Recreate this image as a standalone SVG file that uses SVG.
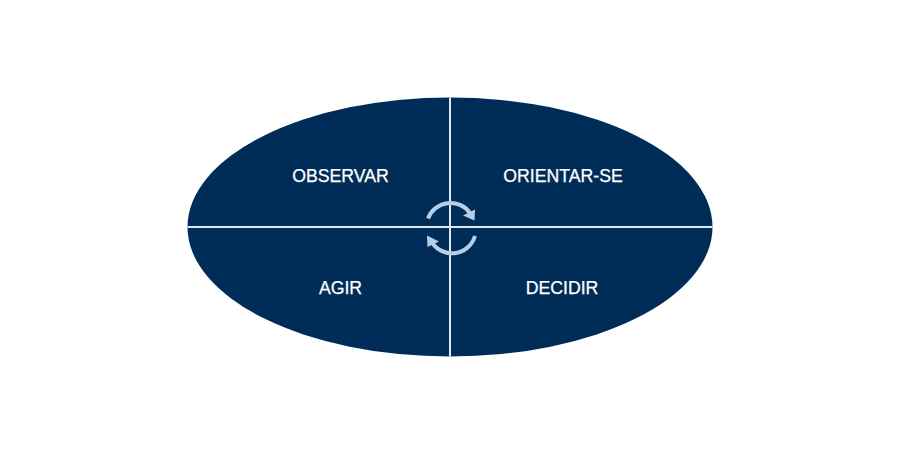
<svg xmlns="http://www.w3.org/2000/svg" width="900" height="456" viewBox="0 0 900 456">
<style>
.l{font-family:"Liberation Sans",Arial,sans-serif;font-size:17.700px;fill:#fff;stroke:#fff;stroke-width:.25;text-anchor:middle}
.d{stroke:#dfe8f2;stroke-width:2;fill:none}
.a{stroke:#b5cfe8;stroke-width:4;fill:none}
.h{fill:#b5cfe8}
</style>
<rect width="900" height="456" fill="#fff"/>
<g id="ellipse"><ellipse cx="450" cy="227" rx="262.500" ry="129.500" fill="#002d58"/></g>
<g id="connectors">
<line class="d" x1="450" y1="97.500" x2="450" y2="356.500"/>
<line class="d" x1="187.500" y1="227" x2="712.500" y2="227"/>
<path class="a" d="M428 218.500A24 24 0 0 1 470 213"/>
<polygon class="h" points="475,209.500 474.500,220.500 463,215.500"/>
<path class="a" d="M475 236A24 24 0 0 1 431 241"/>
<polygon class="h" points="427,235.500 427.500,247 439,241.500"/>
</g>
<g id="observar"><text class="l" x="340.500" y="181.500">OBSERVAR</text></g>
<g id="orientar"><text class="l" x="563" y="181.500">ORIENTAR-SE</text></g>
<g id="agir"><text class="l" x="340.500" y="293.500">AGIR</text></g>
<g id="decidir"><text class="l" x="562" y="293.500">DECIDIR</text></g>
</svg>
